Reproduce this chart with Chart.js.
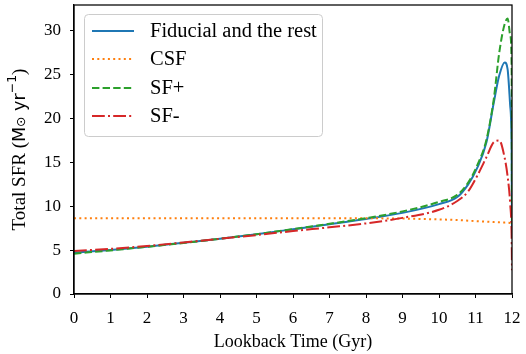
<!DOCTYPE html>
<html><head><meta charset="utf-8">
<script src="https://cdn.jsdelivr.net/npm/chart.js@4.4.1/dist/chart.umd.min.js"></script>
<style>html,body{margin:0;padding:0;background:#fff}#wrap{width:526px;height:354px}</style>
</head><body><div id="wrap"><canvas id="c" width="526" height="354"></canvas></div>
<script>
// Lookback time grid (Gyr)
const timeGyr = [0,1,2,3,4,5,6,7,8,9,10,10.5,10.8,11.05,11.3,11.5,11.65,11.8,11.88,11.95,11.99,12.0];
// Total SFR series (Msun/yr)
const fiducial = [4.7,5.02,5.4,5.85,6.3,6.82,7.38,7.95,8.55,9.25,10.25,11.05,12.5,14.4,17.3,21.8,24.9,26.4,25.6,21.5,16.4,6.5];
const csf      = [8.65,8.65,8.65,8.65,8.65,8.65,8.65,8.64,8.63,8.6,8.5,8.43,8.36,8.3,8.25,8.2,8.17,8.14,8.12,8.1,8.08,8.0];
const sfPlus   = [4.6,4.97,5.38,5.82,6.3,6.82,7.4,8.0,8.65,9.42,10.5,11.3,12.7,14.7,17.6,22.2,27.5,30.8,31.4,29.5,26.0,6.5];
const sfMinus  = [4.9,5.15,5.48,5.88,6.3,6.72,7.18,7.6,8.05,8.68,9.6,10.6,11.7,13.5,15.6,17.3,17.5,15.5,13.4,10.3,6.5,2.7];
const seriesLabels = ["Fiducial and the rest","CSF","SF+","SF-"];
const xTicks = [0,1,2,3,4,5,6,7,8,9,10,11,12];
const yTicks = [0,5,10,15,20,25,30];

const SERIF = "'Liberation Serif','Times New Roman',serif";
const SANS = "'DejaVu Sans',sans-serif";
const pts = arr => timeGyr.map((t,i)=>({x:t,y:arr[i]}));
const colors = ['#1f77b4','#ff7f0e','#2ca02c','#d62728'];
const dashes = [[],[2,3.3],[7.4,3.2],[12.8,3.2,2,3.2]];
const vals = [fiducial,csf,sfPlus,sfMinus];

const datasets = vals.map((v,i)=>({
  label: seriesLabels[i], data: pts(v), borderColor: colors[i], borderWidth: 2,
  borderDash: dashes[i], pointRadius: 0, fill:false, cubicInterpolationMode:'monotone', order: [3,2,1,0][i]
}));

const framePlugin = {
  id:'frame',
  afterDatasetsDraw(chart){
    const {ctx, chartArea:a} = chart;
    ctx.save();
    ctx.strokeStyle='#000'; ctx.lineWidth=1.25;
    ctx.strokeRect(a.left, a.top, a.right-a.left, a.bottom-a.top);
    ctx.restore();
  },
  afterDraw(chart){
    const {ctx, chartArea:a} = chart;
    // legend
    ctx.save();
    const bx=84, by=14, bw=238, bh=122, r=4;
    ctx.fillStyle='rgba(255,255,255,0.85)';
    ctx.strokeStyle='#cccccc'; ctx.lineWidth=1;
    ctx.beginPath(); ctx.roundRect(bx+0.5,by+0.5,bw,bh,r); ctx.fill(); ctx.stroke();
    const ys=[31,59,88,116];
    ctx.font = "20.5px "+SERIF; ctx.textBaseline='middle'; ctx.textAlign='left';
    for(let i=0;i<4;i++){
      ctx.strokeStyle=colors[i]; ctx.lineWidth=2; ctx.setLineDash(dashes[i]);
      ctx.beginPath(); ctx.moveTo(92,ys[i]); ctx.lineTo(134,ys[i]); ctx.stroke();
      ctx.setLineDash([]);
      ctx.fillStyle='#000'; ctx.fillText(seriesLabels[i],150,ys[i]+1);
    }
    // y title with mixed fonts
    const segs=[
      {t:'Total SFR (',f:"19px "+SERIF,dy:0},
      {t:'M',f:"17.5px "+SANS,dy:0},
      {t:'\u2299',f:"12.5px "+SANS,dy:2},
      {t:' yr',f:"17.5px "+SANS,dy:0},
      {t:'\u22121',f:"12.5px "+SANS,dy:-7},
      {t:')',f:"19px "+SERIF,dy:0}
    ];
    let w=0; segs.forEach(s=>{ctx.font=s.f; s.w=ctx.measureText(s.t).width; w+=s.w;});
    ctx.translate(20,(a.top+a.bottom)/2); ctx.rotate(-Math.PI/2);
    ctx.textBaseline='middle'; ctx.fillStyle='#000';
    let x=-w/2;
    segs.forEach(s=>{ctx.font=s.f; ctx.fillText(s.t,x,s.dy); x+=s.w;});
    ctx.restore();
  }
};

new Chart(document.getElementById('c'),{
  type:'line',
  data:{datasets},
  options:{
    responsive:false, animation:false, devicePixelRatio:1,
    layout:{padding:{top:5,right:14,left:0,bottom:0}},
    plugins:{legend:{display:false},tooltip:{enabled:false}},
    scales:{
      x:{type:'linear',min:0,max:12,
        afterFit(s){s.height=60; s.paddingLeft=0; s.paddingRight=0;},
        afterBuildTicks(s){s.ticks=xTicks.map(v=>({value:v}));},
        ticks:{font:{family:SERIF,size:17},color:'#000',padding:10,maxRotation:0},
        grid:{drawOnChartArea:false,drawTicks:true,tickLength:4,tickColor:'#000'},
        border:{display:true,color:'#000',width:1.25},
        title:{display:true,text:'Lookback Time (Gyr)',font:{family:SERIF,size:18},color:'#000',padding:{top:2,bottom:1}}
      },
      y:{type:'linear',min:0,max:32.95,
        afterFit(s){s.width=74; s.paddingTop=0; s.paddingBottom=0;},
        afterBuildTicks(s){s.ticks=yTicks.map(v=>({value:v}));},
        ticks:{font:{family:SERIF,size:17},color:'#000',padding:9},
        grid:{drawOnChartArea:false,drawTicks:true,tickLength:4,tickColor:'#000'},
        border:{display:true,color:'#000',width:1.25}
      }
    }
  },
  plugins:[framePlugin]
});
</script></body></html>
